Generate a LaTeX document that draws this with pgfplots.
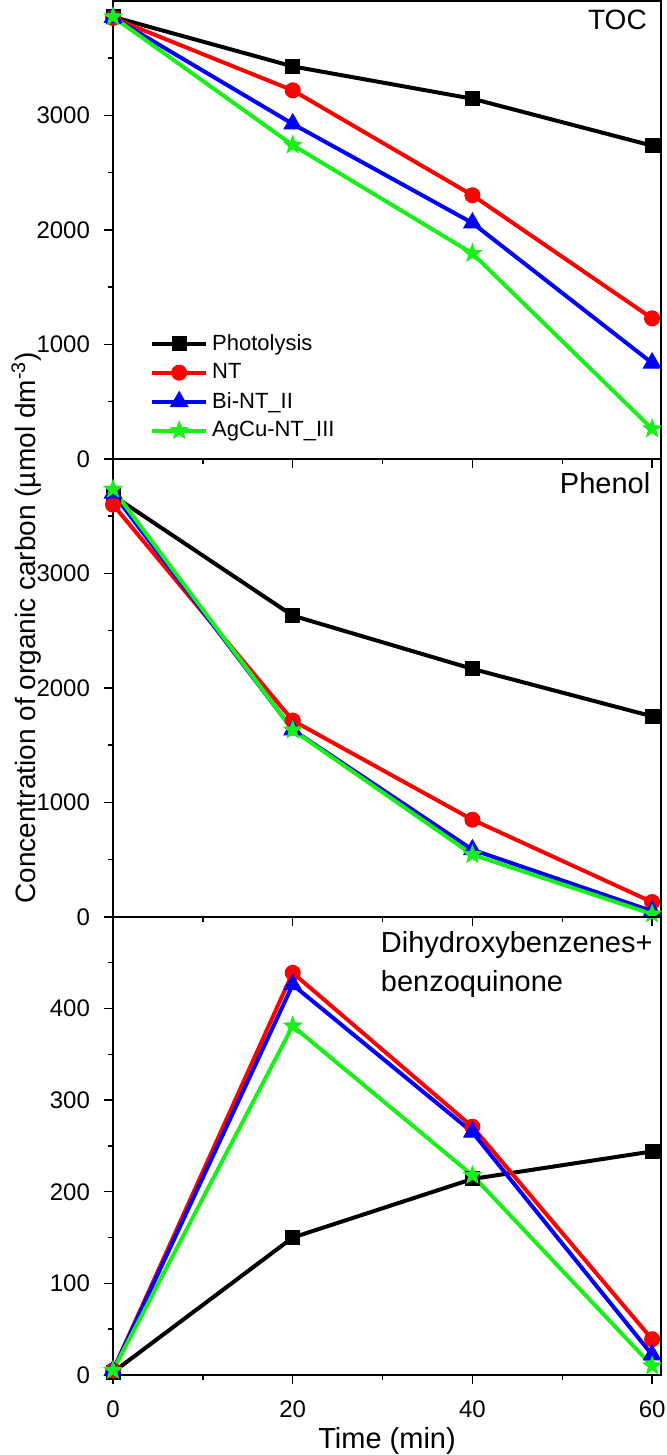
\documentclass[border=0pt]{standalone}
\usepackage{fontspec}
\setmainfont{Liberation Sans}
\usepackage{pgfplots}
\pgfplotsset{compat=1.18}
\definecolor{cphot}{RGB}{0,0,0}
\definecolor{cnt}{RGB}{255,0,0}
\definecolor{cbi}{RGB}{0,0,255}
\definecolor{cag}{RGB}{25,240,25}
\pgfdeclareplotmark{fstar}{%
  \pgfpathmoveto{\pgfpointpolar{90}{\pgfplotmarksize}}%
  \pgfpathlineto{\pgfpointpolar{126}{0.42\pgfplotmarksize}}%
  \pgfpathlineto{\pgfpointpolar{162}{\pgfplotmarksize}}%
  \pgfpathlineto{\pgfpointpolar{198}{0.42\pgfplotmarksize}}%
  \pgfpathlineto{\pgfpointpolar{234}{\pgfplotmarksize}}%
  \pgfpathlineto{\pgfpointpolar{270}{0.42\pgfplotmarksize}}%
  \pgfpathlineto{\pgfpointpolar{306}{\pgfplotmarksize}}%
  \pgfpathlineto{\pgfpointpolar{342}{0.42\pgfplotmarksize}}%
  \pgfpathlineto{\pgfpointpolar{18}{\pgfplotmarksize}}%
  \pgfpathlineto{\pgfpointpolar{54}{0.42\pgfplotmarksize}}%
  \pgfpathclose
  \pgfusepathqfillstroke
}
\pgfplotsset{
  panel/.style={
    width=274pt, height=229pt, scale only axis,
    xmin=0, xmax=61,
    xtick={0,20,40,60}, minor xtick={10,30,50},
    tick align=outside, tick pos=left,
    major tick length=4.5pt, minor tick length=2.5pt,
    every tick/.style={black, line width=0.7pt},
    axis line style={line width=0.8pt},
    ticklabel style={font=\fontsize{12}{14}\selectfont},
    xticklabel style={inner xsep=0pt, yshift=-4.8pt},
    yticklabel style={xshift=-3.5pt},
    /pgf/number format/assume math mode=true,
    /pgf/number format/1000 sep={},
    scaled y ticks=false,
    clip=false,
  },
  sphot/.style={color=cphot, line width=2pt, mark=square*, mark size=3.5pt, mark options={solid, line width=0.5pt}},
  snt/.style={color=cnt, line width=2pt, mark=*, mark size=3.75pt, mark options={solid, line width=0.5pt}},
  sbi/.style={color=cbi, line width=2pt, mark=triangle*, mark size=5pt, mark options={solid, line width=0.5pt}},
  sag/.style={color=cag, line width=2pt, mark=fstar, mark size=4.6pt, mark options={solid, fill=cag, line width=0.5pt}},
}
\begin{document}
\begin{tikzpicture}
% ---------- TOC ----------
\begin{axis}[panel, at={(0,0)}, anchor=south west,
  ymin=0, ymax=4000, ytick={0,1000,2000,3000}, minor ytick={500,1500,2500,3500},
  xticklabels={},
  legend style={at={(rel axis cs:0.0635,0.286)}, anchor=north west, draw=none, fill=none,
    font=\fontsize{11}{13}\selectfont, row sep=1.2pt, inner sep=1pt},
  legend cell align=left,
  legend image code/.code={\draw[mark repeat=2,mark phase=2] plot coordinates {(0pt,0pt) (13.5pt,0pt) (27pt,0pt)};},
]
\addplot[sphot] coordinates {(0,3860) (20,3427) (40,3145) (60,2735)};
\addplot[snt] coordinates {(0,3850) (20,3218) (40,2302) (60,1227)};
\addplot[sbi] coordinates {(0,3855) (20,2925) (40,2060) (60,837)};
\addplot[sag] coordinates {(0,3860) (20,2740) (40,1794) (60,262)};
\legend{Photolysis, NT, Bi-NT\_II, AgCu-NT\_III}
\node[anchor=east, inner sep=0pt, font=\fontsize{14}{16}\selectfont] at (rel axis cs:0.9745,0.958) {TOC};
\end{axis}
% ---------- Phenol ----------
\begin{axis}[panel, at={(0,-229pt)}, anchor=south west,
  ymin=0, ymax=4000, ytick={0,1000,2000,3000}, minor ytick={500,1500,2500,3500},
  xticklabels={},
  ylabel={Concentration of organic carbon (µmol dm\textsuperscript{-3})},
  ylabel style={at={(rel axis cs:-0.158,0.631)}, anchor=center, rotate=0, inner sep=0pt, font=\fontsize{14}{16}\selectfont},
]
\addplot[sphot] coordinates {(0,3680) (20,2631) (40,2166) (60,1752)};
\addplot[snt] coordinates {(0,3600) (20,1715) (40,849) (60,130)};
\addplot[sbi] coordinates {(0,3700) (20,1634) (40,587) (60,50)};
\addplot[sag] coordinates {(0,3735) (20,1632) (40,544) (60,25)};
\node[anchor=east, inner sep=0pt, font=\fontsize{14.5}{16}\selectfont] at (rel axis cs:0.981,0.948) {Phenol};
\path (rel axis cs:0,0.5) ++(-56.5pt,0pt);
\path (rel axis cs:1,0.5) ++(2.7pt,0pt);
\end{axis}
% ---------- Dihydroxybenzenes ----------
\begin{axis}[panel, at={(0,-458pt)}, anchor=south west,
  ymin=0, ymax=500, ytick={0,100,200,300,400}, minor ytick={50,150,250,350,450},
  xlabel={Time (min)},
  xlabel style={at={(rel axis cs:0.5,0)}, anchor=base, yshift=-36.5pt, inner sep=0pt, font=\fontsize{14.5}{16}\selectfont},
]
\addplot[sphot] coordinates {(0,3) (20,150) (40,214) (60,244)};
\addplot[snt] coordinates {(0,5) (20,439) (40,271) (60,39)};
\addplot[sbi] coordinates {(0,5) (20,426) (40,265) (60,22)};
\addplot[sag] coordinates {(0,5) (20,381) (40,218) (60,10)};
\node[anchor=north west, inner sep=0pt, align=left, font=\fontsize{14.5}{19.5}\selectfont] at (rel axis cs:0.488,0.969) {Dihydroxybenzenes+\\benzoquinone};
\path (rel axis cs:0.5,0) ++(0pt,-40pt);
\end{axis}
\end{tikzpicture}
\end{document}
